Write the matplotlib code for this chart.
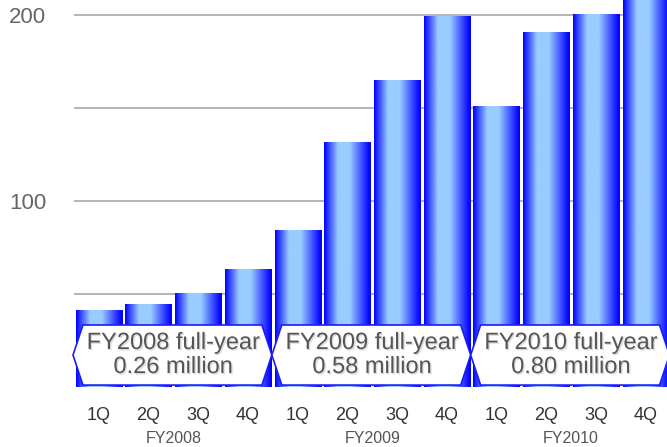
import numpy as np
import matplotlib
matplotlib.use('Agg')
import matplotlib.pyplot as plt
from matplotlib.colors import LinearSegmentedColormap
from matplotlib.patches import Polygon
import matplotlib.patheffects as pe

quarters = ['1Q', '2Q', '3Q', '4Q'] * 3
years = ['FY2008', 'FY2009', 'FY2010']
values = [41, 44.5, 50.5, 63, 84, 131.5, 165, 199, 151, 190.5, 200, 220]
totals = ['0.26', '0.58', '0.80']

plt.rcParams['font.family'] = ['Liberation Sans', 'DejaVu Sans']


def main():
    fig = plt.figure(figsize=(6.67, 4.47), dpi=100)
    ax = fig.add_axes([74 / 667, 59.7 / 447, 596.5 / 667, 387.3 / 447])

    # gradient bars
    cmap = LinearSegmentedColormap.from_list(
        'bar', [(0, '#0000ff'), (0.3, '#99ccff'), (0.55, '#99ccff'),
                (0.95, '#0a0aff'), (1, '#0000ff')])
    grad = np.linspace(0, 1, 256).reshape(1, -1)
    x = np.arange(len(values))
    bars = ax.bar(x, values, width=0.93, color='none', zorder=2)
    for b in bars:
        ax.imshow(grad, cmap=cmap, aspect='auto', zorder=2,
                  extent=[b.get_x(), b.get_x() + b.get_width(), 0, b.get_height()])
    ax.set_xlim(-0.5, 11.5)
    ax.set_ylim(0, 208.2)

    # grid
    ax.set_yticks([100, 200])
    ax.set_yticks([50, 150], minor=True)
    ax.grid(axis='y', which='both', color='#a0a0a0', lw=1.1, zorder=0)
    ax.set_axisbelow(True)
    for s in ax.spines.values():
        s.set_visible(False)
    ax.tick_params(axis='y', which='both', length=0, pad=20,
                   labelsize=16, labelcolor='#666666')
    ax.set_xticks(x)
    ax.set_xticklabels(quarters)
    ax.tick_params(axis='x', length=0, pad=14, labelsize=13,
                   labelcolor='#333333')

    # year boxes
    d = 0.2
    top, bot = 33.5, 1.2
    mid = (top + bot) / 2
    for g, (yr, tot) in enumerate(zip(years, totals)):
        L = 4 * g - 0.52
        R = 4 * g + 3.48
        pts = [(L, mid), (L + d, top), (R - d, top), (R, mid), (R - d, bot), (L + d, bot)]
        ax.add_patch(Polygon(pts, closed=True, fc='white', ec='#1a1aff', lw=1.2,
                             zorder=3, clip_on=False))
        c = 4 * g + 1.5
        ax.text(c, mid, f'{yr} full-year\n{tot} million', ha='center', va='center',
                fontsize=17, color='#555555', linespacing=1.12, zorder=4,
                path_effects=[pe.SimplePatchShadow(offset=(1, -1), shadow_rgbFace='#bbbbbb', alpha=0.5),
                              pe.Normal()])
        ax.text(c, -0.132, yr, transform=ax.get_xaxis_transform(), ha='center',
                va='center', fontsize=11.5, color='#555555')

    fig.savefig('out.png', dpi=100)


if __name__ == '__main__':
    main()
